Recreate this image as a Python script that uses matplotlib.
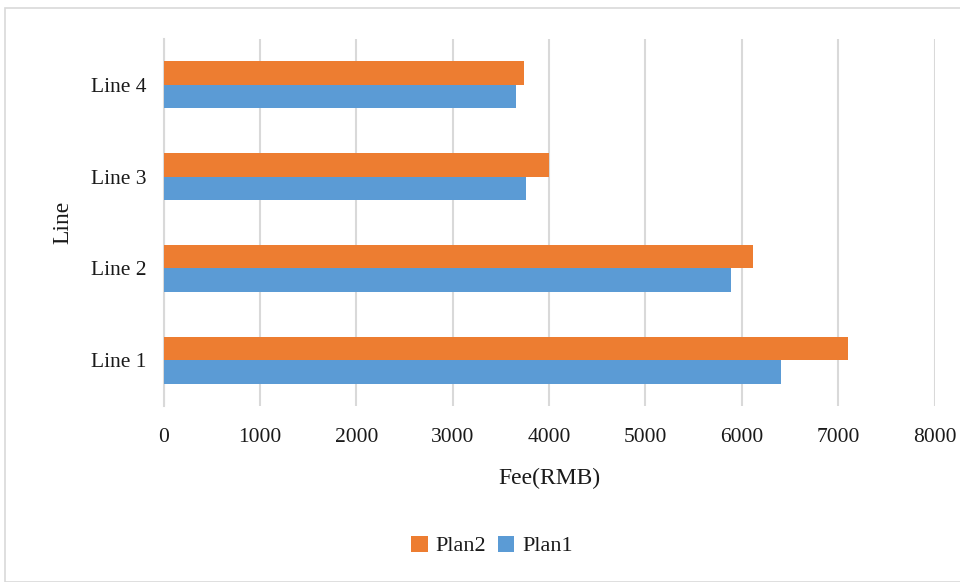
import matplotlib
matplotlib.use("Agg")
import matplotlib.pyplot as plt
import numpy as np
from matplotlib.patches import Rectangle

categories = ["Line 1", "Line 2", "Line 3", "Line 4"]
plan1 = [6410, 5890, 3760, 3660]
plan2 = [7100, 6120, 4000, 3740]
xticks = [0, 1000, 2000, 3000, 4000, 5000, 6000, 7000, 8000]

plt.rcParams['font.family'] = ['Liberation Serif', 'DejaVu Serif']

W, H = 960, 582
fig = plt.figure(figsize=(W/100, H/100), dpi=100)
fig.patches.append(Rectangle((4.5/W, 0), 1, 1 - 7.5/H, transform=fig.transFigure,
                             fill=False, edgecolor='#d9d9d9', linewidth=1.2, zorder=0))
ax = fig.add_axes([163.5/W, 1 - 406/H, (934.5-163.5)/W, (406-39)/H])

y = np.arange(len(categories))
h = 0.256
ax.barh(y - h/2, plan1, height=h, color='#5B9BD5', label='Plan1', zorder=3)
ax.barh(y + h/2, plan2, height=h, color='#ED7D31', label='Plan2', zorder=3)

ax.set_xlim(0, 8000)
ax.set_ylim(-0.5, 3.5)
ax.set_xticks(xticks)
ax.set_xticklabels([str(t) for t in xticks], fontsize=15.5, color='#1a1a1a')
ax.set_yticks(y)
ax.set_yticklabels(categories, fontsize=15.5, color='#1a1a1a')
ax.tick_params(axis='x', length=0, pad=16)
ax.tick_params(axis='y', length=0, pad=12)
ax.grid(axis='x', color='#d9d9d9', linewidth=1.5, zorder=0)
for s in ['top', 'right', 'bottom']:
    ax.spines[s].set_visible(False)
ax.spines['left'].set_color('#d9d9d9')
ax.spines['left'].set_linewidth(1.5)
ax.set_xlabel("Fee(RMB)", fontsize=17, labelpad=15, color='#1a1a1a')
ax.set_ylabel("Line", fontsize=17, labelpad=13, color='#1a1a1a')

handles, labels = ax.get_legend_handles_labels()
fig.legend(handles[::-1], labels[::-1], loc='center', bbox_to_anchor=(492/W, 1 - 546/H),
           ncol=2, frameon=False, fontsize=16, handlelength=0.75, handleheight=0.75,
           handletextpad=0.35, columnspacing=0.5, labelcolor='#1a1a1a')

fig.savefig("out.png", dpi=100)
